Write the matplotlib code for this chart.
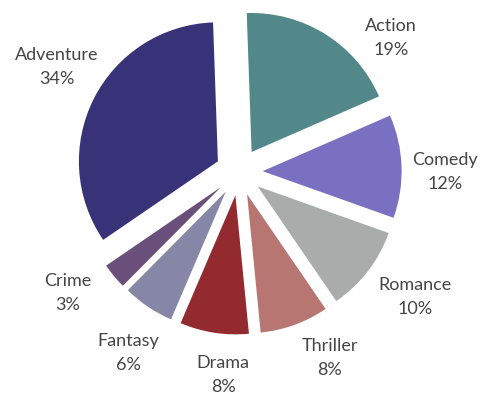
import matplotlib
matplotlib.use("Agg")
import matplotlib.pyplot as plt

genres = ["Action", "Comedy", "Romance", "Thriller", "Drama", "Fantasy", "Crime", "Adventure"]
shares = [19, 12, 10, 8, 8, 6, 3, 34]
colors = ["#52888a", "#7a70c2", "#a9acab", "#b87672", "#922a2f", "#8686a6", "#6a4f7a", "#383278"]

# label centres in figure pixels (text placement only)
label_px = [(391, 38), (445, 172), (415, 297), (330, 358), (223, 375), (128, 353), (68, 293), (57, 67)]

W, H = 480, 394
cx, cy, R = 239, 172, 139

fig = plt.figure(figsize=(W / 100, H / 100), dpi=100)
ax = fig.add_axes([0, 0, 1, 1])
ax.pie(shares, colors=colors, startangle=92, counterclock=False,
       explode=[0.17] * len(shares), radius=1.0,
       wedgeprops=dict(linewidth=0))
ax.set_xlim(-cx / R, (W - cx) / R)
ax.set_ylim(-(H - cy) / R, cy / R)
ax.set_aspect('auto')
ax.axis('off')

for g, s, (px, py) in zip(genres, shares, label_px):
    ax.text((px - cx) / R, (cy - py) / R, f"{g}\n{s}%", ha="center", va="center",
            fontsize=13, color="#454545", family=["Lato", "DejaVu Sans"], linespacing=1.55)

fig.savefig("out.png", dpi=100)
